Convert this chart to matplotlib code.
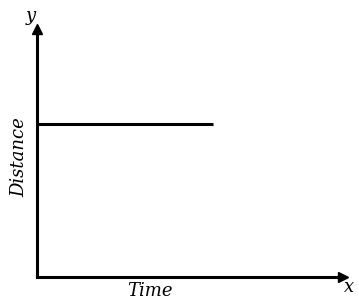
import matplotlib.pyplot as plt

# Distance-time graph: object at rest (constant distance)
time = [0, 5.75]
distance = [6.17, 6.17]

W, H = 359, 308
fig = plt.figure(figsize=(W / 100, H / 100), dpi=100)
ax = fig.add_axes([37 / W, (H - 277) / H, 306 / W, 248 / H])
ax.set_xlim(0, 10)
ax.set_ylim(0, 10)

ax.plot(time, distance, color='black', linewidth=2.2, solid_capstyle='butt')

# Axes with arrow heads
for side in ['top', 'right']:
    ax.spines[side].set_visible(False)
for side in ['left', 'bottom']:
    ax.spines[side].set_linewidth(2.2)
ax.plot(1, 0, '>k', markersize=6.5, transform=ax.transAxes, clip_on=False)
ax.plot(0, 1, '^k', markersize=6.5, transform=ax.transAxes, clip_on=False)
ax.set_xticks([])
ax.set_yticks([])

font = dict(family='DejaVu Serif', style='italic', fontsize=13)
fig.text(31 / W, 1 - 21 / H, 'y', ha='center', va='baseline', **font)
fig.text(349 / W, 1 - 292 / H, 'x', ha='center', va='baseline', **font)
fig.text(150 / W, 1 - 282 / H, 'Time', ha='center', va='top', **font)
fig.text(19 / W, 1 - 157 / H, 'Distance', ha='center', va='center', rotation=90, **font)

fig.savefig('out.png', dpi=100)
